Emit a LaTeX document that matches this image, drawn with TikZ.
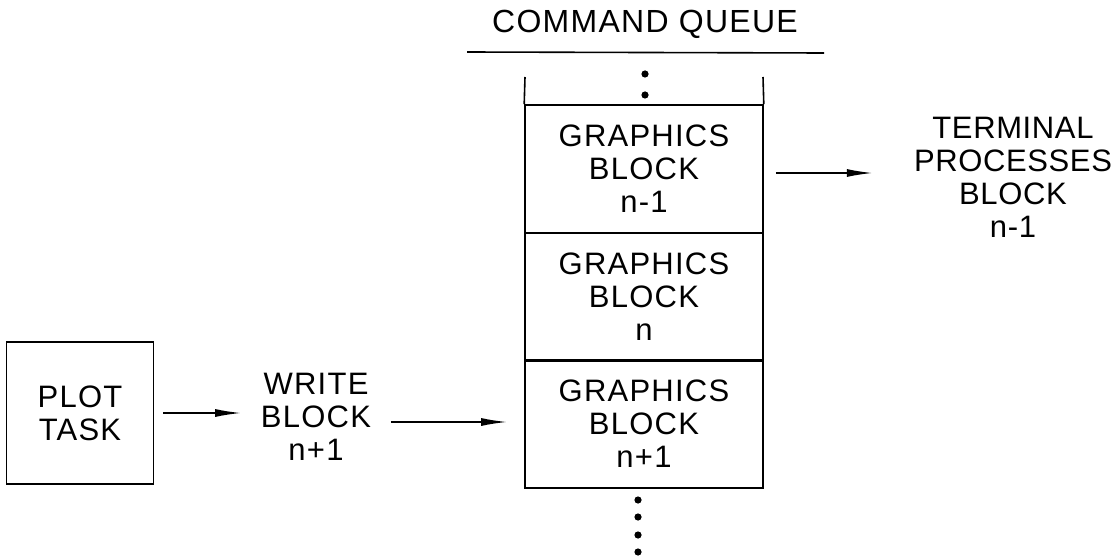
\documentclass[tikz,border=0pt]{standalone}
\usepackage{fontspec}
\setmainfont{Liberation Sans}[LetterSpace=4]
\usetikzlibrary{arrows.meta,calc}
\begin{document}
\begin{tikzpicture}[x=1pt,y=-1pt,
  line width=1.6pt,
  lbl/.style={font=\fontsize{31}{33}\selectfont, align=center, inner sep=0pt},
  cell/.style={draw, minimum width=238pt, minimum height=128pt, inner sep=0pt,
               font=\fontsize{31}{33}\selectfont, align=center},
  arr/.style={-{Latex[length=26pt,width=8pt]}},
  dot/.style={fill=black, draw=none}]
\useasboundingbox (0,0) rectangle (1117,559);
% title
\node[lbl, font=\fontsize{32}{35}\selectfont] (title) at (645,24) {COMMAND QUEUE};
\coordinate (ulL) at (467,52);
\coordinate (ulR) at (824,53);
\draw (ulL) -- (ulR);
% queue cells
\node[cell] (c1) at (644,169) {GRAPHICS\\BLOCK\\n-1};
\node[cell] (c2) at (644,297) {GRAPHICS\\BLOCK\\n};
\node[cell] (c3) at (644,424) {GRAPHICS\\BLOCK\\n+1};
\coordinate (qtl) at (525,77);
\coordinate (qtr) at (763,77);
\draw (c1.north west) -- (qtl);
\draw (c1.north east) -- (qtr);
% dots
\fill[dot] (645,74) circle (3.6pt);
\fill[dot] (645,95) circle (3.6pt);
\fill[dot] (638,500) circle (3.6pt);
\fill[dot] (638,517) circle (3.6pt);
\fill[dot] (638,535) circle (3.6pt);
\fill[dot] (638,552) circle (3.6pt);
% plot task
\node[draw, minimum width=147pt, minimum height=142pt, lbl, inner sep=0pt] (plot) at (80,413) {PLOT\\TASK};
% write block
\node[lbl, minimum width=148pt] (write) at (316,417) {WRITE\\BLOCK\\n+1};
% terminal
\node[lbl, font=\fontsize{31}{33}\selectfont\addfontfeature{LetterSpace=2}] (term) at (1013,177) {TERMINAL\\PROCESSES\\BLOCK\\n-1};
% arrows
\draw[arr, shorten <=9pt] (plot.east) -- (write.west |- plot.east);
\draw[arr, shorten >=17pt] ($(write.east)+(0,5)$) -- ($(write.east -| c3.west)+(0,5)$);
\draw[arr, shorten <=12pt] ($(c1.east)+(0,4)$) -- ($(c1.east)+(109,4)$);
\end{tikzpicture}
\end{document}
